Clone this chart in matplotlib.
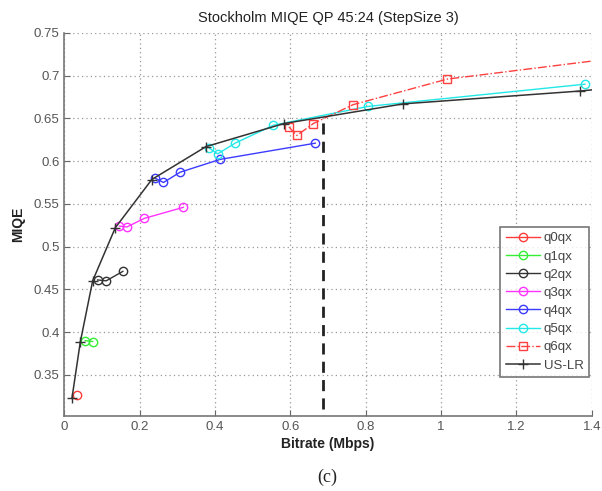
#!/usr/bin/env python3
"""Stockholm MIQE vs bitrate, RD curves per QP offset plus US-LR envelope."""
import matplotlib
matplotlib.use("Agg")
import matplotlib.pyplot as plt

# bitrate (Mbps) / MIQE
q0_x = [0.033]
q0_y = [0.3265]
q1_x = [0.055, 0.075]
q1_y = [0.390, 0.389]
q2_x = [0.088, 0.111, 0.155]
q2_y = [0.461, 0.460, 0.471]
q3_x = [0.146, 0.166, 0.212, 0.316]
q3_y = [0.524, 0.523, 0.533, 0.546]
q4_x = [0.241, 0.263, 0.307, 0.413, 0.666]
q4_y = [0.580, 0.575, 0.587, 0.602, 0.621]
q5_x = [0.385, 0.407, 0.453, 0.555, 0.806, 1.382]
q5_y = [0.615, 0.6085, 0.621, 0.642, 0.664, 0.690]
q6_x = [0.596, 0.617, 0.661, 0.766, 1.017, 1.5]
q6_y = [0.640, 0.630, 0.644, 0.666, 0.696, 0.7225]
uslr_x = [0.020, 0.042, 0.075, 0.135, 0.232, 0.376, 0.583, 0.900, 1.369, 1.45]
uslr_y = [0.3225, 0.388, 0.460, 0.522, 0.5785, 0.617, 0.644, 0.667, 0.682, 0.6855]
cut_x = 0.686
cut_y = (0.31, 0.648)

xticks = [0, 0.2, 0.4, 0.6, 0.8, 1, 1.2, 1.4]
yticks = [0.35, 0.4, 0.45, 0.5, 0.55, 0.6, 0.65, 0.7, 0.75]

plt.rcParams['font.family'] = ['Liberation Sans', 'DejaVu Sans']

fig = plt.figure(figsize=(6.02, 4.91), dpi=100)
ax = fig.add_axes([0.107, 0.153, 0.876, 0.780])

mk = dict(marker='o', markersize=6, markerfacecolor='none', linewidth=1.0, markeredgewidth=1.0)
ax.plot(q0_x, q0_y, color='#ff3b3b', label='q0qx', **mk)
ax.plot(q1_x, q1_y, color='#33ee33', label='q1qx', **mk)
ax.plot(q2_x, q2_y, color='#333333', label='q2qx', **mk)
ax.plot(q3_x, q3_y, color='#ff33ff', label='q3qx', **mk)
ax.plot(q4_x, q4_y, color='#3b3bff', label='q4qx', **mk)
ax.plot(q5_x, q5_y, color='#22e8e8', label='q5qx', **mk)
ax.plot(q6_x, q6_y, color='#ff4040', linestyle='-.', marker='s', markersize=6,
        markerfacecolor='none', linewidth=1.0, label='q6qx')
ax.plot(uslr_x, uslr_y, color='#333333', marker='+', markersize=7, linewidth=1.1,
        label='US-LR')

ax.plot([cut_x, cut_x], cut_y, color='#222222', linewidth=2.0, dashes=(4, 2.6))

ax.set_xlim(0, 1.4)
ax.set_ylim(0.302, 0.75)
ax.set_xticks(xticks)
ax.set_xticklabels(['0', '0.2', '0.4', '0.6', '0.8', '1', '1.2', '1.4'])
ax.set_yticks(yticks)
ax.set_yticklabels(['0.35', '0.4', '0.45', '0.5', '0.55', '0.6', '0.65', '0.7', '0.75'])
ax.grid(True, linestyle=(0, (1, 2.5)), color='#999999', linewidth=0.9)
ax.tick_params(direction='in', length=4, colors='#666666', labelsize=9.5,
               labelcolor='#555555')

for s in ['top', 'right']:
    ax.spines[s].set_visible(False)
for s in ['left', 'bottom']:
    ax.spines[s].set_color('#777777')
    ax.spines[s].set_linewidth(1.2)

ax.set_title('Stockholm MIQE QP 45:24 (StepSize 3)', fontsize=10.5, color='#222222', pad=8)
ax.set_xlabel('Bitrate (Mbps)', fontsize=10, fontweight='bold', color='#222222', labelpad=3)
ax.set_ylabel('MIQE', fontsize=10, fontweight='bold', color='#222222', labelpad=6)

leg = ax.legend(loc='lower right', bbox_to_anchor=(1.0, 0.095), fontsize=9.5,
                frameon=True, fancybox=False, borderpad=0.4, labelspacing=0.45,
                handlelength=2.6, handletextpad=0.3, borderaxespad=0.2)
leg.get_frame().set_edgecolor('#555555')
leg.get_frame().set_linewidth(1.2)
for t in leg.get_texts():
    t.set_color('#444444')

fig.text(0.543, 0.028, '(c)', fontsize=13, family=['Liberation Serif', 'DejaVu Serif'],
         ha='center', va='center', color='#222222')

fig.savefig('out.png', dpi=100)
